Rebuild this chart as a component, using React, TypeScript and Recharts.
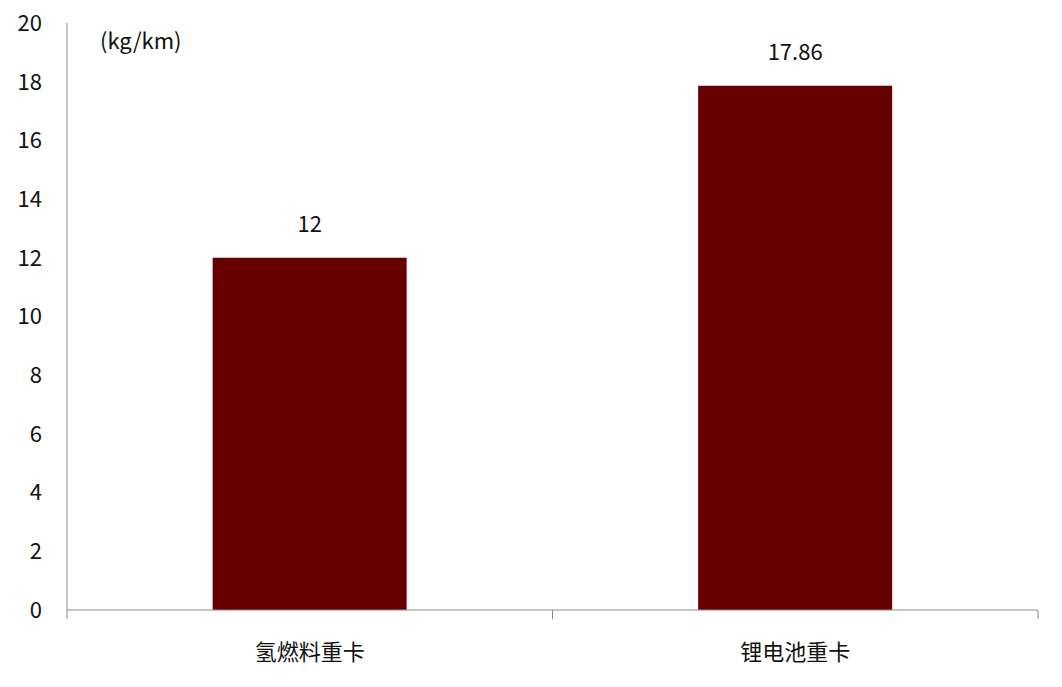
import React from "react";
import { BarChart, Bar, XAxis, YAxis, LabelList } from "recharts";

const categories = ["氢燃料重卡", "锂电池重卡"];
const consumption = [12, 17.86];
const yTicks = [0, 2, 4, 6, 8, 10, 12, 14, 16, 18, 20];

const data = categories.map((name, i) => ({ name, value: consumption[i] }));

const FONT = '"Noto Sans CJK SC", "Noto Sans", sans-serif';
const AXIS_COLOR = "#8c8c8c";

// category tick: label in the middle, tick lines on the band edges
const CategoryTick = (props: any) => {
  const { x, y, payload, index } = props;
  const half = payload.offset || 0;
  const axisY = y - 34;
  return (
    <g>
      <line x1={x - half} y1={axisY} x2={x - half} y2={axisY + 9} stroke={AXIS_COLOR} />
      {index === categories.length - 1 && (
        <line x1={x + half} y1={axisY} x2={x + half} y2={axisY + 9} stroke={AXIS_COLOR} />
      )}
      <text x={x} y={y} dy="0.71em" textAnchor="middle" fill="#111" fontSize={22} fontFamily={FONT}>
        {payload.value}
      </text>
    </g>
  );
};

const App = () => {
  return (
    <div style={{ position: "absolute", left: 0, top: 0, width: 1062, height: 687, background: "#fff" }}>
      <BarChart
        width={1062}
        height={687}
        data={data}
        margin={{ top: 23, right: 24, left: 0, bottom: 0 }}
        barCategoryGap="30%"
      >
        <XAxis
          dataKey="name"
          height={77}
          axisLine={{ stroke: AXIS_COLOR }}
          tickLine={false}
          tickSize={0}
          tickMargin={34}
          tick={<CategoryTick />}
          interval={0}
        />
        <YAxis
          width={67}
          domain={[0, 20]}
          ticks={yTicks}
          interval={0}
          axisLine={{ stroke: AXIS_COLOR }}
          tickLine={false}
          tickSize={0}
          tickMargin={25}
          tick={{ fill: "#111", fontSize: 22, fontFamily: FONT }}
        />
        <Bar dataKey="value" fill="#660000" isAnimationActive={false}>
          <LabelList
            dataKey="value"
            position="top"
            offset={26}
            fill="#111"
            fontSize={22}
            fontFamily={FONT}
          />
        </Bar>
      </BarChart>
      <div
        style={{
          position: "absolute",
          left: 100,
          top: 23,
          fontSize: 22,
          fontFamily: FONT,
          color: "#111",
          lineHeight: "32px",
        }}
      >
        (kg/km)
      </div>
    </div>
  );
};

export default App;
